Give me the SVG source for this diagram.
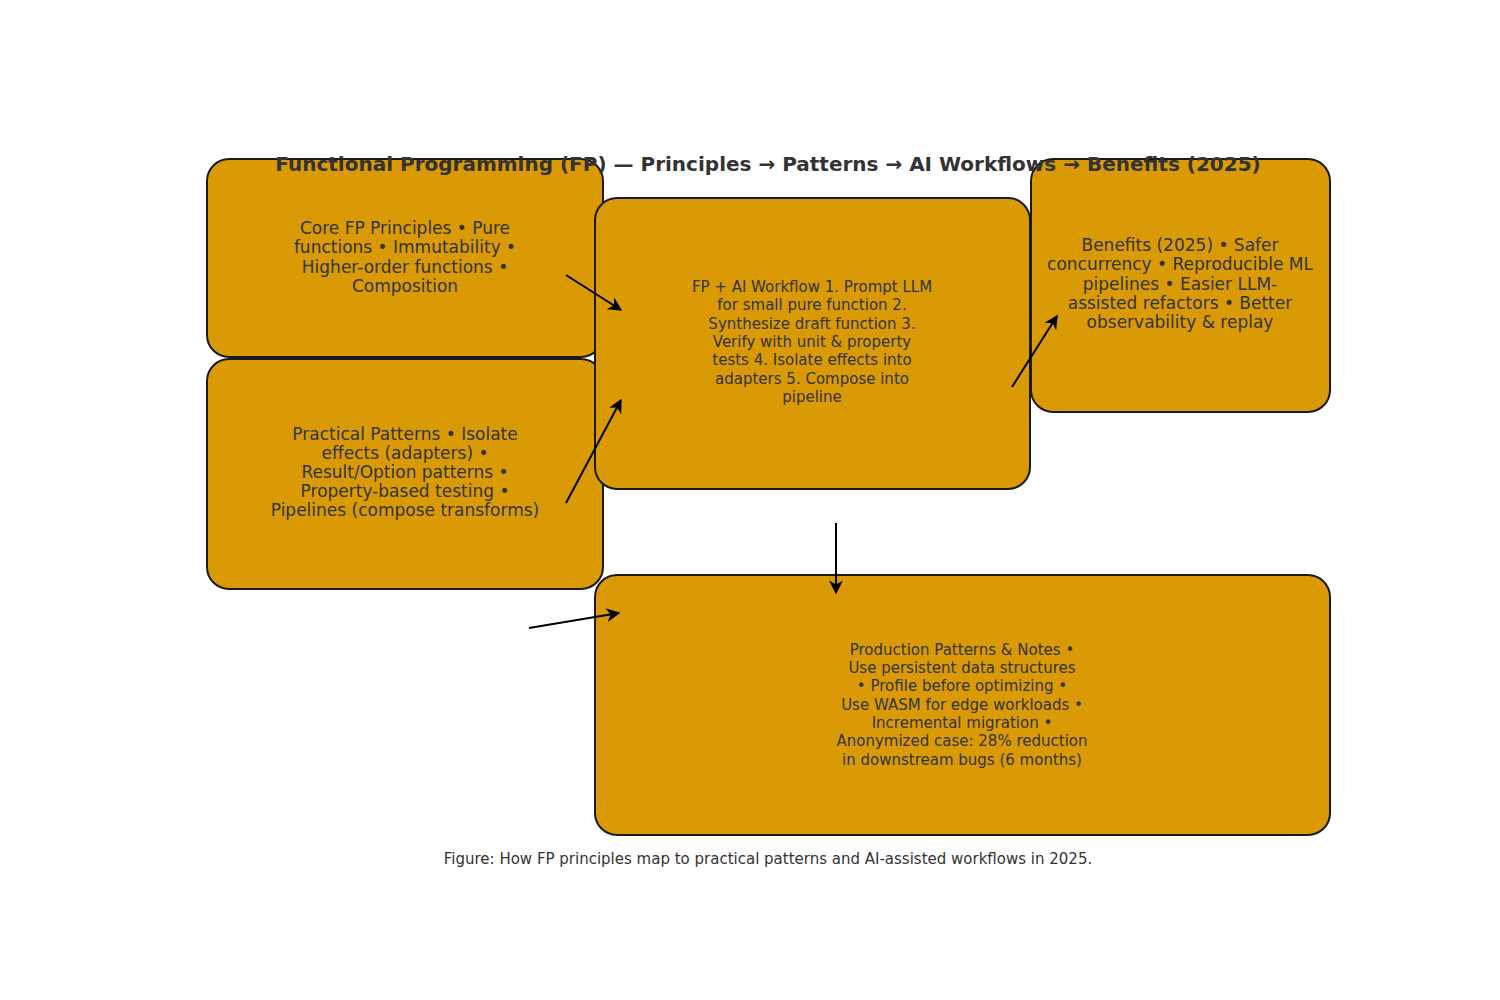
<svg xmlns="http://www.w3.org/2000/svg" width="1500" height="1000" viewBox="0 0 1500 1000">
<style>
.box{fill:#D99A06;stroke:#1a1a1a;stroke-width:2}
text{font-family:"DejaVu Sans",sans-serif;fill:#333;text-anchor:middle;dominant-baseline:middle}
.l{font-size:17px}.s{font-size:15px}
.c{stroke:#000;stroke-width:2;fill:none;marker-end:url(#a)}
</style>
<defs><marker id="a" viewBox="0 0 10 10" refX="9" refY="5" markerWidth="7" markerHeight="7" orient="auto"><path d="M0,0 L10,5 L0,10 L3,5 Z" fill="#000"/></marker></defs>
<rect width="1500" height="1000" fill="#fff"/>
<g id="core"><rect class="box" x="207" y="159" width="396" height="198" rx="22"/>
<text class="l" x="405" y="229">Core FP Principles • Pure</text><text class="l" x="405" y="248">functions • Immutability •</text><text class="l" x="405" y="268">Higher-order functions •</text><text class="l" x="405" y="287">Composition</text></g>
<g id="practical"><rect class="box" x="207" y="359" width="396" height="230" rx="22"/>
<text class="l" x="405" y="435">Practical Patterns • Isolate</text><text class="l" x="405" y="454">effects (adapters) •</text><text class="l" x="405" y="473">Result/Option patterns •</text><text class="l" x="405" y="492">Property-based testing •</text><text class="l" x="405" y="511">Pipelines (compose transforms)</text></g>
<g id="workflow"><rect class="box" x="595" y="198" width="435" height="291" rx="22"/>
<text class="s" x="812" y="287">FP + AI Workflow 1. Prompt LLM</text><text class="s" x="812" y="305">for small pure function 2.</text><text class="s" x="812" y="324">Synthesize draft function 3.</text><text class="s" x="812" y="342">Verify with unit &amp; property</text><text class="s" x="812" y="360">tests 4. Isolate effects into</text><text class="s" x="812" y="379">adapters 5. Compose into</text><text class="s" x="812" y="397">pipeline</text></g>
<g id="benefits"><rect class="box" x="1031" y="159" width="299" height="253" rx="22"/>
<text class="l" x="1180" y="246">Benefits (2025) • Safer</text><text class="l" x="1180" y="265">concurrency • Reproducible ML</text><text class="l" x="1180" y="285">pipelines • Easier LLM-</text><text class="l" x="1180" y="304">assisted refactors • Better</text><text class="l" x="1180" y="323">observability &amp; replay</text></g>
<g id="production"><rect class="box" x="595" y="575" width="735" height="260" rx="22"/>
<text class="s" x="962" y="650">Production Patterns &amp; Notes •</text><text class="s" x="962" y="668">Use persistent data structures</text><text class="s" x="962" y="686">• Profile before optimizing •</text><text class="s" x="962" y="705">Use WASM for edge workloads •</text><text class="s" x="962" y="723">Incremental migration •</text><text class="s" x="962" y="741">Anonymized case: 28% reduction</text><text class="s" x="962" y="760">in downstream bugs (6 months)</text></g>
<text x="768" y="165" style="font-size:20px;font-weight:bold">Functional Programming (FP) — Principles → Patterns → AI Workflows → Benefits (2025)</text>
<g id="connectors">
<line class="c" x1="566" y1="275" x2="621" y2="310"/>
<line class="c" x1="566" y1="503" x2="621" y2="400"/>
<line class="c" x1="1012" y1="387" x2="1057" y2="316"/>
<line class="c" x1="836" y1="523" x2="836" y2="593"/>
<line class="c" x1="529" y1="628" x2="619" y2="613"/>
</g>
<text class="s" x="768" y="859">Figure: How FP principles map to practical patterns and AI-assisted workflows in 2025.</text>
</svg>
